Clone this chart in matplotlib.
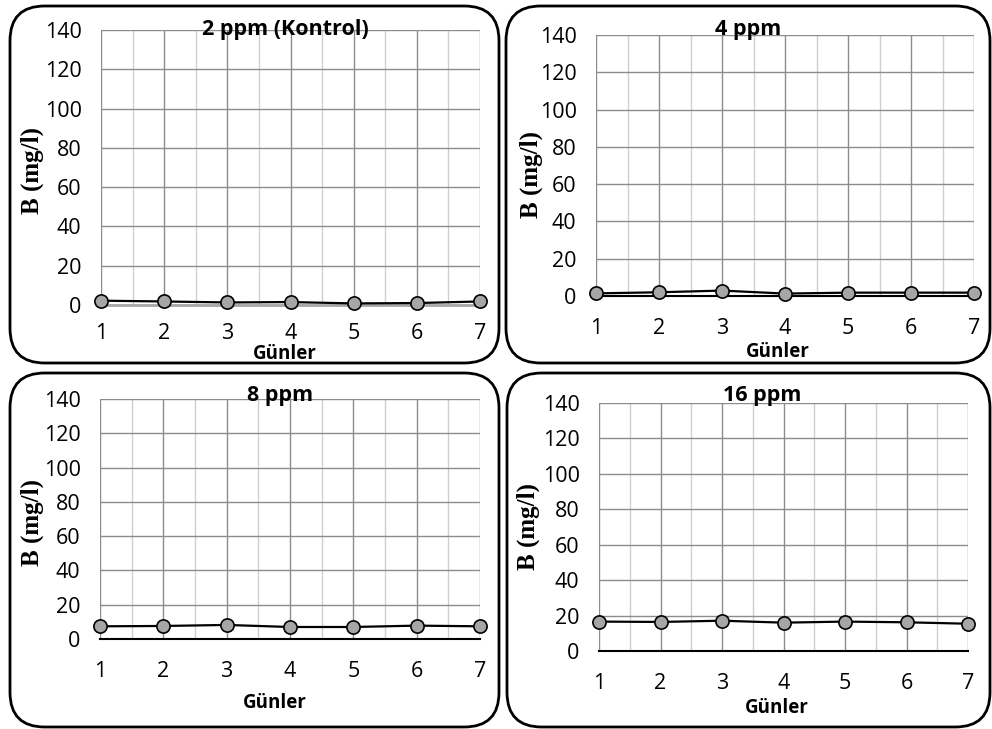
import matplotlib
matplotlib.use("Agg")
import matplotlib.pyplot as plt
from matplotlib.patches import FancyBboxPatch
from matplotlib.ticker import MultipleLocator

# günler ve ölçülen B değerleri
days = [1, 2, 3, 4, 5, 6, 7]
b_2ppm = [2.2, 1.8, 1.3, 1.5, 0.8, 1.0, 1.8]
b_4ppm = [1.4, 2.0, 2.9, 1.3, 1.8, 1.8, 1.8]
b_8ppm = [7.4, 7.6, 8.2, 7.0, 7.0, 7.8, 7.4]
b_16ppm = [16.6, 16.4, 17.1, 16.0, 16.6, 16.2, 15.4]
titles = ["2 ppm (Kontrol)", "4 ppm", "8 ppm", "16 ppm"]
series = [b_2ppm, b_4ppm, b_8ppm, b_16ppm]

W, H = 992, 729
fig = plt.figure(figsize=(W / 100, H / 100), dpi=100)
sans = ["Open Sans", "DejaVu Sans"]

# pikselden figür koordinatına
def fx(px):
    return px / W

def fy(py):
    return 1 - py / H

# eksen kutuları: sol, sağ, üst, alt (piksel)
axes_px = [(101, 480, 30, 305), (596, 974, 35, 296), (100, 480, 399, 639), (599, 968, 403, 651)]
# çerçeveler: sol, üst, sağ, alt
frames_px = [(10, 6, 499, 363), (506, 6, 990, 363), (10, 373, 499, 727), (507, 373, 990, 727)]
title_px = [(285, 29), (748, 29), (280, 395), (762, 395)]
xlab_px = [(285, 354), (778, 352), (275, 703), (777, 708)]
ylab_px = [(32, 170), (531, 175), (32, 522), (528, 527)]

for i in range(4):
    l, t, r, b = frames_px[i]
    fig.patches.append(FancyBboxPatch((fx(l), fy(b)), fx(r - l), (b - t) / H,
                                      boxstyle="round,pad=0,rounding_size=0.035",
                                      transform=fig.transFigure, fill=False,
                                      edgecolor="black", linewidth=2, mutation_aspect=W / H))

    al, ar, at, ab = axes_px[i]
    ax = fig.add_axes([fx(al), fy(ab), (ar - al) / W, (ab - at) / H])
    ax.set_xlim(1, 7)
    ax.set_ylim(0, 140)
    ax.xaxis.set_major_locator(MultipleLocator(1))
    ax.xaxis.set_minor_locator(MultipleLocator(0.5))
    ax.yaxis.set_major_locator(MultipleLocator(20))
    ax.grid(which="major", color="#8c8c8c", linewidth=1)
    ax.grid(which="minor", axis="x", color="#cfcfcf", linewidth=1)
    ax.set_axisbelow(True)
    for s in ["left", "right", "top"]:
        ax.spines[s].set_visible(False)
    if i == 0:
        ax.spines["bottom"].set_color("#a6a6a6")
        ax.spines["bottom"].set_linewidth(2)
    else:
        ax.spines["bottom"].set_color("black")
        ax.spines["bottom"].set_linewidth(1.5)
    ax.tick_params(which="both", length=0, labelsize=15.5)
    # ilk panelde "Günler" sayılara çok yakın
    ax.tick_params(axis="x", pad=13 if i == 0 else 16)
    ax.tick_params(axis="y", pad=14)
    for lab in ax.get_xticklabels() + ax.get_yticklabels():
        lab.set_family(sans)

    ax.plot(days, series[i], color="black", linewidth=1.6, marker="o", markersize=9.5,
            markerfacecolor="#a6a6a6", markeredgecolor="black", markeredgewidth=1.2,
            clip_on=False, zorder=5)

    fig.text(fx(title_px[i][0]), fy(title_px[i][1]), titles[i], ha="center", va="center",
             fontsize=15.5, fontweight="bold", family=sans)
    fig.text(fx(xlab_px[i][0]), fy(xlab_px[i][1]), "Günler", ha="center", va="center",
             fontsize=13.5, fontweight="bold", family=sans)
    fig.text(fx(ylab_px[i][0]), fy(ylab_px[i][1]), "B (mg/l)", ha="center", va="center",
             rotation=90, fontsize=18, fontweight="bold", family=["Liberation Serif", "DejaVu Serif"])

fig.savefig("out.png", dpi=100)
